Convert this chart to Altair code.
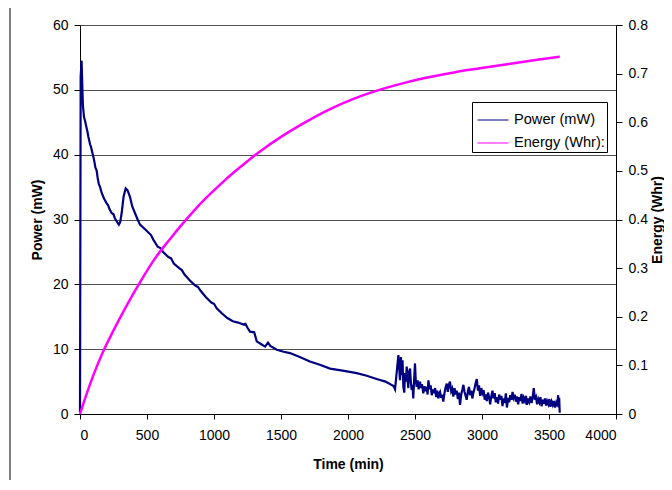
import altair as alt
import pandas as pd

# ---------------- data ----------------
power_t = [0, 5, 12, 18, 22, 30, 38, 45, 55, 62, 75, 82, 90, 105, 115, 124, 132, 140, 150, 162,
           180, 199, 210, 220, 236, 250, 260, 280, 290, 300, 311, 325, 341, 355, 373, 390, 410,
           430, 448, 480, 510, 530, 547, 580, 600, 620, 660, 680, 700, 740, 760, 780, 820, 860,
           880, 900, 940, 980, 1000, 1020, 1060, 1100, 1140, 1180, 1220, 1235,
           1250, 1269, 1300, 1319, 1350, 1381, 1403, 1420, 1468, 1520, 1567, 1640, 1716, 1790,
           1866, 1960, 2065, 2140, 2214, 2280, 2340, 2351,
           2376, 2388, 2395, 2401, 2407, 2413, 2420, 2425, 2432, 2438, 2444, 2450, 2456, 2463,
           2469, 2475, 2481, 2487, 2494, 2500, 2506, 2513, 2520, 2527, 2537, 2545, 2552, 2562,
           2570, 2578, 2587, 2594, 2600, 2610, 2617, 2625, 2633, 2641, 2650, 2658, 2666, 2674,
           2680, 2687, 2695, 2703, 2711, 2720, 2728, 2737, 2745, 2753, 2761, 2770, 2778, 2786,
           2795, 2803, 2811, 2820, 2828, 2836, 2845, 2853, 2861, 2870, 2878, 2886, 2895, 2903,
           2911, 2920, 2928, 2936, 2945, 2953, 2961, 2970, 2978, 2986, 2995, 3003, 3012, 3020,
           3028, 3036, 3045, 3053, 3061, 3070, 3078, 3086, 3095, 3103, 3111, 3120, 3128, 3136,
           3145, 3153, 3161, 3170, 3178, 3186, 3195, 3203, 3211, 3220, 3228, 3236, 3245, 3253,
           3261, 3270, 3278, 3286, 3295, 3303, 3311, 3320, 3328, 3336, 3345, 3353, 3361, 3370,
           3378, 3386, 3395, 3403, 3411, 3420, 3428, 3436, 3445, 3453, 3461, 3470, 3478, 3486,
           3495, 3503, 3511, 3520, 3528, 3536, 3545, 3553, 3561, 3568, 3572, 3576, 3580]
power_mw = [0.3, 52.0, 54.5, 50.0, 47.5, 45.8, 45.2, 44.5, 43.6, 42.8, 41.6, 41.2, 40.5, 39.2,
            38.0, 37.6, 36.4, 35.5, 35.0, 34.1, 33.2, 32.5, 32.2, 31.6, 31.0, 30.8, 30.2, 29.5,
            29.2, 29.6, 31.0, 33.5, 34.8, 34.5, 33.5, 32.0, 31.0, 30.0, 29.2, 28.6, 28.0, 27.6,
            26.9, 25.8, 25.6, 25.0, 24.2, 24.0, 23.2, 22.5, 22.2, 21.5, 20.6, 19.8, 19.6, 19.0,
            18.0, 17.2, 17.0, 16.3, 15.5, 14.8, 14.3, 14.1, 13.8, 13.9, 13.3, 12.7, 12.6, 11.2,
            10.8, 10.4, 11.0, 10.5, 9.9, 9.6, 9.4, 8.8, 8.1, 7.6, 7.0, 6.7, 6.3, 5.9, 5.4, 5.0,
            4.3, 3.8,
            9.1, 5.2, 8.8, 6.0, 8.3, 4.2, 3.3, 6.3, 5.0, 7.3, 5.5, 4.0, 6.5, 7.0,
            5.0, 3.7, 4.5, 2.4, 5.5, 7.8, 5.0, 4.2, 5.2, 3.8, 5.0, 4.0, 4.6, 3.2,
            4.3, 3.5, 4.2, 3.0, 5.2, 3.8, 4.4, 2.9, 3.8, 3.2, 4.0, 2.6, 3.6, 2.4,
            3.1, 3.4, 2.5, 3.0, 1.9, 3.2, 4.1, 4.7, 3.4, 4.5, 5.0, 3.5, 3.9, 2.7,
            4.0, 3.0, 3.6, 2.3, 3.3, 1.4, 3.0, 3.7, 4.5, 3.4, 2.8, 2.2, 3.5, 4.2,
            2.9, 3.6, 2.4, 3.3, 4.0, 4.8, 5.4, 3.6, 4.4, 2.8, 4.0, 3.2, 3.7, 2.2,
            3.0, 2.0, 3.3, 2.6, 1.5, 2.8, 3.6, 2.4, 3.2, 1.8, 2.6, 1.6, 3.0, 2.2,
            2.8, 1.2, 2.4, 1.7, 3.2, 1.0, 2.5, 1.8, 2.9, 2.2, 3.4, 2.5, 3.0, 1.9,
            2.7, 1.5, 2.6, 2.0, 3.1, 1.6, 2.5, 2.0, 2.8, 1.4, 2.4, 1.9, 2.7, 1.7,
            2.5, 4.0, 2.2, 2.6, 1.5, 2.3, 1.8, 2.6, 1.2, 2.2, 1.6, 2.4, 1.3, 2.0,
            1.5, 2.3, 1.1, 1.9, 1.4, 2.0, 1.0, 1.7, 1.2, 2.9, 1.0, 2.5, 0.2]

energy_t = [0, 50, 100, 172, 250, 350, 463, 560, 672, 771, 870, 970, 1070, 1144, 1250, 1343,
            1500, 1700, 1866, 2050, 2240, 2450, 2612, 2800, 2985, 3200, 3400, 3580]
energy_whr = [0.0, 0.042, 0.080, 0.128, 0.172, 0.224, 0.278, 0.320, 0.360, 0.393, 0.424,
              0.452, 0.478, 0.496, 0.520, 0.540, 0.570, 0.603, 0.627, 0.649, 0.667, 0.683,
              0.693, 0.703, 0.711, 0.720, 0.728, 0.735]

series_names = ["Power (mW)", "Energy (Whr):"]
series_colors = ["#000080", "#FF00FF"]
x_ticks = [0, 500, 1000, 1500, 2000, 2500, 3000, 3500, 4000]
power_ticks = [0, 10, 20, 30, 40, 50, 60]
energy_ticks = [0, 0.1, 0.2, 0.3, 0.4, 0.5, 0.6, 0.7, 0.8]

df_p = pd.DataFrame({"t": power_t, "v": power_mw, "series": series_names[0]})
df_e = pd.DataFrame({"t": energy_t, "v": energy_whr, "series": series_names[1]})

W, H = 536, 389
FONT = "Liberation Sans"

x_enc = alt.X("t:Q", scale=alt.Scale(domain=[0, 4000], nice=False, zero=False),
              axis=alt.Axis(values=x_ticks, title="Time (min)", grid=False, format="d",
                            tickSize=5, labelPadding=9, titlePadding=15))

color_enc = alt.Color("series:N",
                      scale=alt.Scale(domain=series_names, range=series_colors),
                      legend=alt.Legend(orient="none", legendX=392, legendY=77, title=None,
                                        symbolType="stroke", symbolSize=961,
                                        symbolStrokeWidth=1, symbolOffset=3,
                                        labelFontSize=14.6, labelFont=FONT, labelOffset=5,
                                        rowPadding=0, padding=2, strokeColor="#000000",
                                        fillColor="#ffffff", labelColor="#000000"))

frame = alt.Chart(pd.DataFrame({"k": [0]})).mark_rect(
    fillOpacity=0, stroke="#000000", strokeWidth=1
).encode(x=alt.value(-70), x2=alt.value(W + 200), y=alt.value(-22), y2=alt.value(H + 200))

power = alt.Chart(df_p).mark_line(strokeWidth=2.2).encode(
    x=x_enc,
    y=alt.Y("v:Q", scale=alt.Scale(domain=[0, 60], nice=False),
            axis=alt.Axis(orient="left", values=power_ticks, format="d", title="Power (mW)",
                          grid=True, gridColor="#505050", gridWidth=1, tickSize=6,
                          labelPadding=6, titlePadding=8)),
    color=color_enc,
    order=alt.Order("t:Q"),
)

energy = alt.Chart(df_e).mark_line(strokeWidth=2.5, interpolate="monotone").encode(
    x=x_enc,
    y=alt.Y("v:Q", scale=alt.Scale(domain=[0, 0.8], nice=False),
            axis=alt.Axis(orient="right", values=energy_ticks, format=".1~f",
                          title="Energy (Whr)", grid=False, tickSize=6, labelPadding=6,
                          titlePadding=3, titleAngle=270, titleBaseline="top")),
    color=color_enc,
    order=alt.Order("t:Q"),
)

chart = alt.layer(frame, power, energy).resolve_scale(y="independent").properties(
    width=W, height=H,
    autosize=alt.AutoSizeParams(type="none"),
    padding={"left": 72, "top": 17, "right": 48, "bottom": 66},
).configure_view(stroke=None).configure_axis(
    labelFont=FONT, labelFontSize=14, labelColor="#000000",
    titleFont=FONT, titleFontSize=14, titleFontWeight="bold", titleColor="#000000",
    domainColor="#000000", tickColor="#000000", domainWidth=1, tickWidth=1,
)

chart.save("out.html", embed_options={"renderer": "svg", "actions": False})
